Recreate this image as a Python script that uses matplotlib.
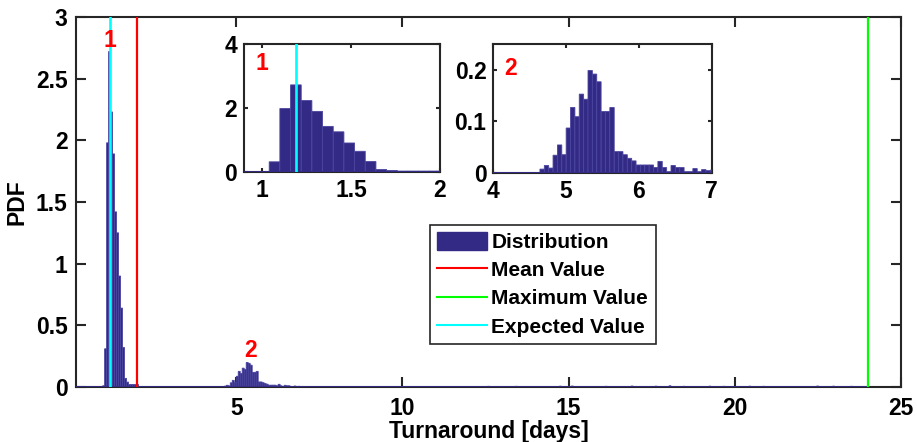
import numpy as np
import matplotlib
matplotlib.use("Agg")
import matplotlib.pyplot as plt
from matplotlib.patches import Patch
from matplotlib.lines import Line2D

# histogram bins (days), all bins have the same width
bin_start = 0.98
bin_width = 0.06
bin_end = 24.02

# PDF values near the first peak, starting at 0.98
peak1_heights = [0.01, 0.31, 1.98, 2.72, 2.23, 1.89, 1.42, 1.25, 0.90, 0.64,
                 0.32, 0.07, 0.04, 0.02, 0.02, 0.02, 0.02, 0.02]
# PDF values near the second peak, starting at 4.64
peak2_start = 4.64
peak2_heights = [0.007, 0.014, 0.009, 0.034, 0.054, 0.035, 0.087, 0.127, 0.109, 0.153,
                 0.143, 0.199, 0.192, 0.177, 0.119, 0.119, 0.127, 0.041, 0.041, 0.035,
                 0.028, 0.023, 0.015, 0.015, 0.015, 0.015, 0.010, 0.022, 0.010, 0.002,
                 0.014, 0.010, 0.010, 0.002, 0.002, 0.008, 0.002, 0.006, 0.004, 0.005,
                 0.003]
# scattered small values in the long tail (day, PDF)
tail_days = [12.58, 13.01, 13.42, 14.73, 15.13, 16.14, 16.94, 17.65, 18.05, 18.46,
             19.26, 19.66, 20.47, 20.88, 22.49, 22.99, 23.50]
tail_pdf = [0.006, 0.005, 0.006, 0.007, 0.008, 0.006, 0.008, 0.007, 0.010, 0.006,
            0.007, 0.006, 0.007, 0.006, 0.008, 0.007, 0.006]

mean_value = 2.01
max_value = 24.0
expected_value = 1.19

bar_face = "#332a85"
bar_edge = "#4b45a0"
axis_col = "#262626"

plt.rcParams["font.family"] = ["Liberation Sans", "DejaVu Sans"]
plt.rcParams["font.weight"] = "bold"
plt.rcParams["axes.labelweight"] = "bold"
plt.rcParams["font.size"] = 16

# skladanie histogramu z odczytanych fragmentow
edges = np.arange(bin_start, bin_end + bin_width / 2, bin_width)
lefts = edges[:-1]
heights = np.zeros(len(lefts))
heights[:len(peak1_heights)] = peak1_heights
i2 = int(round((peak2_start - bin_start) / bin_width))
heights[i2:i2 + len(peak2_heights)] = peak2_heights
for d, p in zip(tail_days, tail_pdf):
    heights[np.searchsorted(edges, d) - 1] = p


def style_axes(ax, ticklen, pad):
    for s in ax.spines.values():
        s.set_color(axis_col)
        s.set_linewidth(1.5)
    ax.tick_params(direction="in", length=ticklen, width=1.5, color=axis_col,
                   top=True, right=True, pad=pad, labelsize=16.5)


def draw_hist(ax):
    # zorder nad osiami, zeby linia zerowa byla granatowa jak w oryginale
    ax.bar(lefts, heights, width=bin_width, align="edge", color=bar_face,
           edgecolor=bar_edge, linewidth=0.6, zorder=2.6, snap=False)
    ax.hlines(0, ax.get_xlim()[0] - 1, bin_end, color=bar_face, lw=2, zorder=2.6)


fig = plt.figure(figsize=(9.17, 4.42), dpi=100)
ax = fig.add_axes([0.0829, 0.1244, 0.8997, 0.8371])

draw_hist(ax)
ax.axvline(mean_value, color="#ff0000", lw=1.6, zorder=3)
ax.axvline(max_value, color="#00ff00", lw=1.6, zorder=3)
ax.axvline(expected_value, color="#00ffff", lw=1.9, zorder=3)
ax.text(expected_value, 2.81, "1", color="red", ha="center", va="center", fontsize=16.5, zorder=5)
ax.text(5.42, 0.3, "2", color="red", ha="center", va="center", fontsize=16.5, zorder=5)

ax.set_xlim(0.18, 25)
ax.set_ylim(0, 3)
ax.set_xticks([5, 10, 15, 20, 25])
ax.set_yticks([0, 0.5, 1, 1.5, 2, 2.5, 3])
ax.set_yticklabels(["0", "0.5", "1", "1.5", "2", "2.5", "3"])
ax.set_xlabel("Turnaround [days]", labelpad=0, fontsize=16.5)
ax.set_ylabel("PDF", labelpad=5, fontsize=16.5)
style_axes(ax, 7, 6)
ax.tick_params(axis="x", pad=7)

handles = [Patch(facecolor=bar_face, edgecolor=bar_face),
           Line2D([], [], color="#ff0000", lw=1.5),
           Line2D([], [], color="#00ff00", lw=1.5),
           Line2D([], [], color="#00ffff", lw=1.5)]
leg = ax.legend(handles, ["Distribution", "Mean Value", "Maximum Value", "Expected Value"],
                loc="upper left", bbox_to_anchor=(430 / 917, 1 - 225 / 442),
                bbox_transform=fig.transFigure, fancybox=False, framealpha=1,
                edgecolor=axis_col, fontsize=15, handlelength=2.4, handleheight=0.9,
                handletextpad=0.2, borderpad=0.35, labelspacing=0.4, borderaxespad=0)
leg.get_frame().set_linewidth(1.2)

# wstawka 1 - pierwszy pik
ax1 = fig.add_axes([0.2664, 0.6115, 0.2134, 0.2889])
ax1.set_xlim(0.9, 2)
draw_hist(ax1)
ax1.axvline(expected_value, color="#00ffff", lw=1.9, zorder=3)
ax1.set_xlim(0.9, 2)
ax1.set_ylim(0, 4)
ax1.set_xticks([1, 1.5, 2])
ax1.set_xticklabels(["1", "1.5", "2"])
ax1.set_yticks([0, 2, 4])
ax1.text(0.055, 0.80, "1", color="red", transform=ax1.transAxes, fontsize=16.5)
style_axes(ax1, 3, 5)

# wstawka 2 - drugi pik
ax2 = fig.add_axes([0.538, 0.6093, 0.2382, 0.2905])
ax2.set_xlim(4, 7)
draw_hist(ax2)
ax2.set_xlim(4, 7)
ax2.set_ylim(0, 0.25)
ax2.set_xticks([4, 5, 6, 7])
ax2.set_yticks([0, 0.1, 0.2])
ax2.set_yticklabels(["0", "0.1", "0.2"])
ax2.text(0.05, 0.76, "2", color="red", transform=ax2.transAxes, fontsize=16.5)
style_axes(ax2, 3, 5)

fig.savefig("out.png", dpi=100)
